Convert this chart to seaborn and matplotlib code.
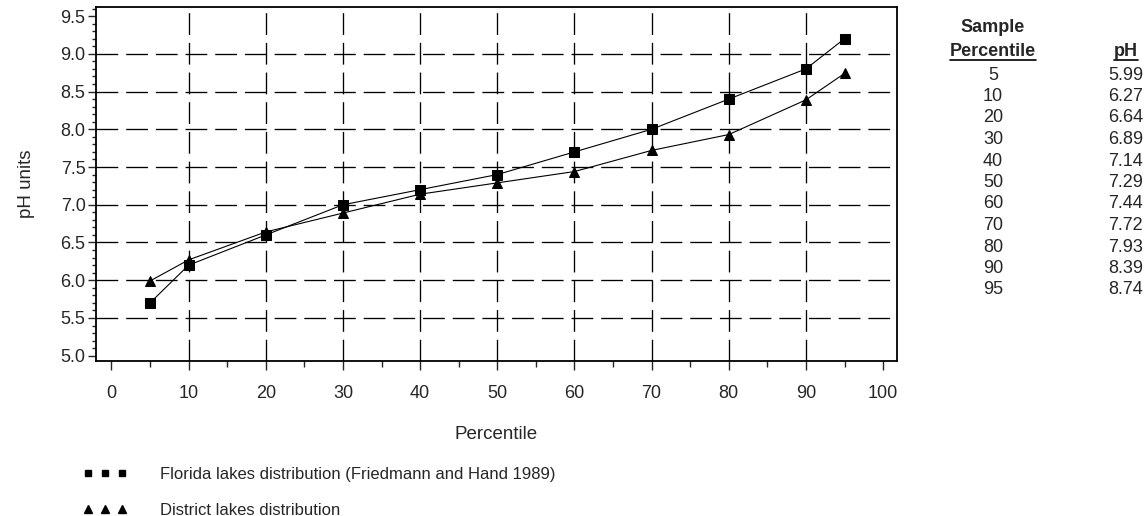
import numpy as np
import pandas as pd
import matplotlib
matplotlib.use('Agg')
import matplotlib.pyplot as plt
from matplotlib.lines import Line2D
from matplotlib.ticker import MultipleLocator
import seaborn as sns

percentiles = [5, 10, 20, 30, 40, 50, 60, 70, 80, 90, 95]
florida_ph = [5.70, 6.20, 6.60, 7.00, 7.20, 7.40, 7.70, 8.00, 8.40, 8.80, 9.20]
district_ph = [5.99, 6.27, 6.64, 6.89, 7.14, 7.29, 7.44, 7.72, 7.93, 8.39, 8.74]
florida_label = 'Florida lakes distribution (Friedmann and Hand 1989)'
district_label = 'District lakes distribution'
x_ticks = list(range(0, 101, 10))
y_ticks = [5.0, 5.5, 6.0, 6.5, 7.0, 7.5, 8.0, 8.5, 9.0, 9.5]

sns.set_style('white')
plt.rcParams['font.family'] = ['Liberation Sans', 'DejaVu Sans']

W, H = 1147, 516
fig = plt.figure(figsize=(W / 100, H / 100), dpi=100)
ax = fig.add_axes([96 / W, 1 - 361 / H, (897 - 96) / W, (361 - 7) / H])

sns.lineplot(x=percentiles, y=florida_ph, ax=ax, color='black', lw=0.8,
             marker='s', markersize=7, mec='black', mfc='black')
sns.lineplot(x=percentiles, y=district_ph, ax=ax, color='black', lw=0.8,
             marker='^', markersize=7.5, mec='black', mfc='black')

ax.set_xlim(-2.0, 101.8)
ax.set_ylim(4.93, 9.62)
ax.set_xticks(x_ticks)
ax.set_yticks(y_ticks)
ax.set_yticklabels([f'{v:.1f}' for v in y_ticks])
ax.xaxis.set_minor_locator(MultipleLocator(5))
ax.yaxis.set_minor_locator(MultipleLocator(0.1))
ax.tick_params(axis='x', which='major', direction='out', length=6.5, width=1,
               pad=11, labelsize=13, bottom=True)
ax.tick_params(axis='x', which='minor', direction='out', length=4, width=1, bottom=True)
ax.tick_params(axis='y', which='major', direction='out', length=5.5, width=1,
               pad=2, labelsize=13, left=True)
ax.tick_params(axis='y', which='minor', direction='out', length=3, width=1, left=True)

# dashed grid, but not on the frame edges
ax.grid(True, which='major', color='black', lw=0.95, linestyle=(0, (16.5, 6)))
for gl, t in zip(ax.xaxis.get_gridlines(), x_ticks):
    if t in (0, 100):
        gl.set_visible(False)
for gl, t in zip(ax.yaxis.get_gridlines(), y_ticks):
    if t in (5.0, 9.5):
        gl.set_visible(False)

for s in ax.spines.values():
    s.set_color('black')
    s.set_linewidth(1.3)

ax.set_xlabel('Percentile', fontsize=13.5, labelpad=17)
ax.set_ylabel('pH units', fontsize=13.5, labelpad=18)

# legend below the plot
handles = [
    Line2D([], [], ls='none', marker='s', ms=5, color='black'),
    Line2D([], [], ls='none', marker='^', ms=5.5, color='black'),
]
fig.legend(handles, [florida_label, district_label], loc='upper left',
           bbox_to_anchor=(68 / W, 1 - 452 / H), frameon=False, numpoints=3,
           handlelength=2.65, handletextpad=2.0, labelspacing=1.25, fontsize=12)

# sample table on the right
col1_x, col2_x = 993, 1143
fig.text(col1_x / W, 1 - 28 / H, 'Sample', ha='center', va='center',
         fontsize=13, fontweight='bold')
hdr1 = fig.text(col1_x / W, 1 - 52 / H, 'Percentile', ha='center', va='center',
                fontsize=13, fontweight='bold')
hdr2 = fig.text(1126 / W, 1 - 52 / H, 'pH', ha='center', va='center',
                fontsize=13, fontweight='bold')
for i, (p, v) in enumerate(zip(percentiles, district_ph)):
    y = 75 + i * 21.5
    fig.text(col1_x / W, 1 - y / H, str(p), ha='center', va='center', fontsize=13)
    fig.text(col2_x / W, 1 - y / H, f'{v:.2f}', ha='right', va='center', fontsize=13)

fig.canvas.draw()
r = fig.canvas.get_renderer()
for t in (hdr1, hdr2):
    bb = t.get_window_extent(renderer=r)
    yl = bb.y0 + 1
    fig.add_artist(Line2D([bb.x0 / W, bb.x1 / W], [yl / H, yl / H],
                          transform=fig.transFigure, color='black', lw=1.2))

fig.savefig('out.png', dpi=100)
